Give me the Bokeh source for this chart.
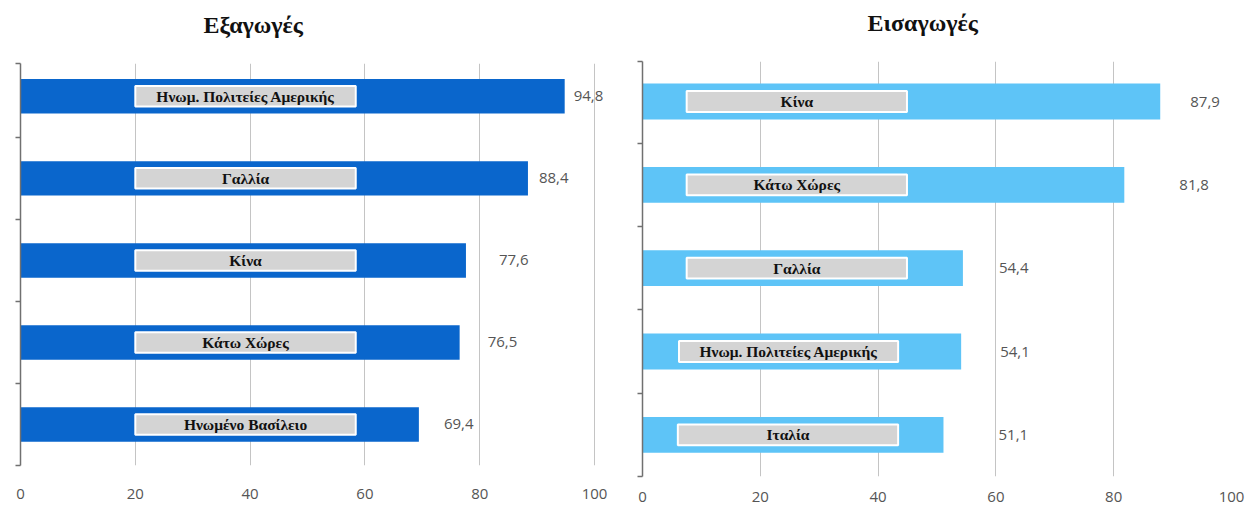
from bokeh.plotting import figure
from bokeh.layouts import row, column
from bokeh.models import ColumnDataSource, FixedTicker, Range1d, CustomJSTickFormatter
from bokeh.embed import file_html
from bokeh.resources import INLINE
from bokeh.core.properties import value

# ---- data ----
exp_title = "Εξαγωγές"
exp_countries = ["Ηνωμ. Πολιτείες Αμερικής", "Γαλλία", "Κίνα", "Κάτω Χώρες", "Ηνωμένο Βασίλειο"]
exp_values = [94.8, 88.4, 77.6, 76.5, 69.4]

imp_title = "Εισαγωγές"
imp_countries = ["Κίνα", "Κάτω Χώρες", "Γαλλία", "Ηνωμ. Πολιτείες Αμερικής", "Ιταλία"]
imp_values = [87.9, 81.8, 54.4, 54.1, 51.1]

x_ticks = [0, 20, 40, 60, 80, 100]

# ---- styles / positions ----
exp_box_left = [20.0] * 5
exp_box_right = [58.4] * 5
exp_label_dx = [9, 11, 33, 28, 25]

imp_box_left = [7.5, 7.5, 7.5, 6.2, 6.0]
imp_box_right = [44.9, 44.9, 44.9, 43.4, 43.4]
imp_label_dx = [30, 55, 36, 39, 55]


def build(title, countries, values, color, box_left, box_right, label_dx,
          width, height, bl, br, bt, bb, x_end, y_top, title_offset,
          tick_standoff, bar_h, box_h):
    n = len(countries)
    ys = [n - 0.5 - i for i in range(n)]
    src = ColumnDataSource(dict(
        y=ys, v=values, name=countries,
        txt=[f"{v:.1f}".replace(".", ",") for v in values],
        bl=box_left, br=box_right,
        bm=[(a + b) / 2 for a, b in zip(box_left, box_right)],
        dx=label_dx,
    ))
    p = figure(width=width, height=height, x_range=Range1d(0, x_end), y_range=Range1d(0, y_top),
               output_backend="svg", toolbar_location=None,
               min_border_left=bl, min_border_right=br, min_border_top=bt, min_border_bottom=bb)
    p.outline_line_color = None
    p.background_fill_color = "white"

    p.hbar(y="y", left=0, right="v", height=bar_h, fill_color=color, line_color=None, source=src)
    p.hbar(y="y", left="bl", right="br", height=box_h, fill_color="#d4d4d4",
           line_color="white", line_width=2, source=src)
    p.text(x="bm", y="y", text="name", text_align="center", text_baseline="middle",
           text_font=value("Liberation Serif"), text_font_style="bold", text_font_size="15.5px",
           text_color="#111111", source=src)
    p.text(x="v", y="y", text="txt", x_offset="dx", text_align="left", text_baseline="middle",
           text_font=value("Open Sans"), text_font_size="15px", text_color="#555555", source=src)

    # x axis
    p.xaxis.ticker = FixedTicker(ticks=x_ticks)
    p.xgrid.ticker = FixedTicker(ticks=x_ticks)
    p.xgrid.grid_line_color = "#c4c4c4"
    p.xgrid.grid_line_width = 1
    p.xaxis.axis_line_color = None
    p.xaxis.major_tick_line_color = None
    p.xaxis.minor_tick_line_color = None
    p.xaxis.major_label_standoff = tick_standoff
    p.xaxis.major_label_text_font = "Open Sans"
    p.xaxis.major_label_text_font_size = "15px"
    p.xaxis.major_label_text_color = "#555555"

    # y axis
    p.ygrid.visible = False
    p.yaxis.ticker = FixedTicker(ticks=[0, 1, 2, 3, 4, y_top])
    p.yaxis.formatter = CustomJSTickFormatter(code="return ''")
    p.yaxis.major_label_text_font_size = "0px"
    p.yaxis.major_label_standoff = 0
    p.yaxis.major_tick_out = 5
    p.yaxis.major_tick_in = 0
    p.yaxis.minor_tick_line_color = None
    p.yaxis.axis_line_color = "#707070"
    p.yaxis.axis_line_width = 1.5
    p.yaxis.major_tick_line_color = "#707070"
    p.yaxis.major_tick_line_width = 1.5

    # title (trailing empty line lifts it away from the frame)
    p.title.text = title + "\n"
    p.title.align = "left"
    p.title.vertical_align = "bottom"
    p.title.offset = title_offset
    p.title.standoff = 0
    p.title.text_font = "Liberation Serif"
    p.title.text_font_style = "bold"
    p.title.text_font_size = "24px"
    p.title.text_color = "#111111"
    return p


p1 = build(exp_title, exp_countries, exp_values, "#0a66cc", exp_box_left, exp_box_right, exp_label_dx,
           width=625, height=502, bl=20, br=8, bt=63, bb=37, x_end=104, y_top=4.9,
           title_offset=183, tick_standoff=17, bar_h=0.42, box_h=0.25)
p2 = build(imp_title, imp_countries, imp_values, "#5ec4f7", imp_box_left, imp_box_right, imp_label_dx,
           width=622, height=504, bl=17, br=16, bt=61, bb=28, x_end=100, y_top=4.98,
           title_offset=225, tick_standoff=9, bar_h=0.43, box_h=0.25)

layout = row(column(p1), column(p2))
open("out.html", "w").write(file_html(layout, INLINE))
